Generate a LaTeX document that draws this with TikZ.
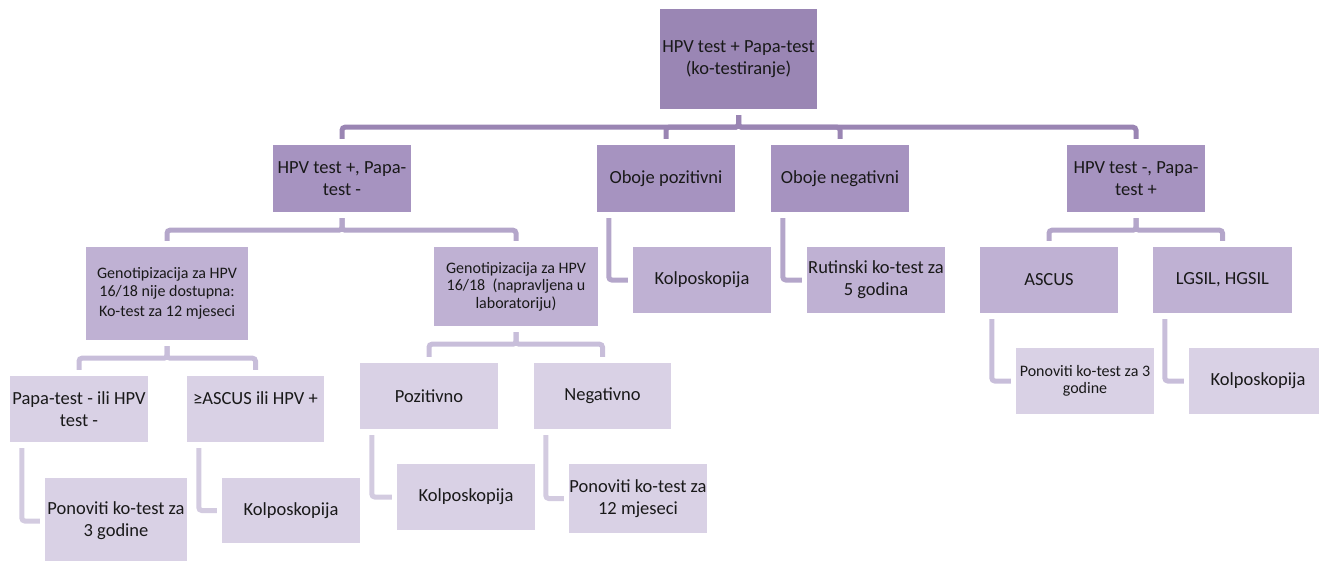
\documentclass[tikz,border=0pt]{standalone}
\usepackage{fontspec}
\setmainfont{Carlito}
\usepackage{tikz}

\definecolor{plumA}{HTML}{9A86B4}
\definecolor{plumB}{HTML}{A693C0}
\definecolor{plumC}{HTML}{BFB1D3}
\definecolor{plumD}{HTML}{D9D1E5}
\definecolor{wireA}{HTML}{9A85B3}
\definecolor{wireB}{HTML}{B4A6CA}
\definecolor{wireC}{HTML}{C8BEDA}
\definecolor{wireD}{HTML}{D3CBE0}

\begin{document}
\begin{tikzpicture}[x=1pt,y=1pt,
  box/.style={rectangle, inner sep=0pt, align=center, text=black!90,
              minimum width=138pt, minimum height=66pt,
              font=\fontsize{18.5}{22}\selectfont},
  smalltext/.style={font=\fontsize{16}{17.5}\selectfont},
  lvlA/.style={box, fill=plumA},
  lvlB/.style={box, fill=plumB},
  lvlC/.style={box, fill=plumC},
  lvlD/.style={box, fill=plumD},
  link/.style={line width=5pt, rounded corners=3pt},
  busA/.style={link, draw=wireA},
  busB/.style={link, draw=wireB},
  busC/.style={link, draw=wireC},
  elbB/.style={link, draw=wireB},
  elbC/.style={link, draw=wireC},
  elbD/.style={link, draw=wireD}]

 \useasboundingbox (0,0) rectangle (1319,-560);

 \node[lvlA, minimum width=157pt, minimum height=100pt] (CoTest) at (738.5,-59) {HPV test + Papa-test\\(ko-testiranje)};

 \node[lvlB, minimum height=67pt] (HpvPos)  at (342,-178.5)  {HPV test +, Papa-\\test -};
 \node[lvlB, minimum height=67pt] (BothPos) at (666,-178.5)  {Oboje pozitivni};
 \node[lvlB, minimum height=67pt] (BothNeg) at (840,-178.5)  {Oboje negativni};
 \node[lvlB, minimum height=67pt] (PapaPos) at (1136,-178.5) {HPV test -, Papa-\\test +};

 \node[lvlC, smalltext, minimum width=162pt, minimum height=93pt] (GenoNA) at (167,-293.5)
      {Genotipizacija za HPV\\16/18 nije dostupna:\\[3pt]Ko-test za 12 mjeseci};
 \node[lvlC, smalltext, minimum width=164pt, minimum height=79pt] (GenoLab) at (516,-286.5)
      {Genotipizacija za HPV\\16/18\ \ (napravljena u\\laboratoriju)};
 \node[lvlC] (KolpoA)  at (702,-280)  {Kolposkopija};
 \node[lvlC] (Routine) at (876,-280)  {Rutinski ko-test za\\5 godina};
 \node[lvlC] (Ascus)   at (1049,-280) {ASCUS};
 \node[lvlC, minimum width=139pt] (Lgsil) at (1222.5,-280) {LGSIL, HGSIL};

 \node[lvlD] (PapaNeg) at (79,-409) {Papa-test - ili HPV\\test -};
 \node[lvlD, minimum width=137pt] (AscusPos) at (255.5,-409) {≥ASCUS ili HPV +\\\mbox{}};
 \node[lvlD] (Pozitivno) at (429,-396) {Pozitivno};
 \node[lvlD, minimum width=137pt] (Negativno) at (602.5,-396) {Negativno};
 \node[lvlD, smalltext] (RepeatThree) at (1085,-381) {Ponoviti ko-test za 3\\godine};
 \node[lvlD] (KolpoD) at (1258,-381) {Kolposkopija};

 \node[lvlD, minimum width=142pt, minimum height=86pt] (RepeatA) at (116,-521) {Ponoviti ko-test za\\3 godine};
 \node[lvlD, minimum height=65pt] (KolpoB) at (291,-510.5) {Kolposkopija};
 \node[lvlD] (KolpoC) at (466,-497) {Kolposkopija};
 \node[lvlD, minimum height=69pt] (RepeatTwelve) at (638,-498.5) {Ponoviti ko-test za\\12 mjeseci};

 \foreach \kid in {HpvPos,BothPos,BothNeg,PapaPos}
  \draw[busA] ([yshift=-6pt]CoTest.south) -- ++(0,-12) -| ([yshift=6pt]\kid.north);
 \foreach \up/\kid in {HpvPos/GenoNA,HpvPos/GenoLab,PapaPos/Ascus,PapaPos/Lgsil}
  \draw[busB] ([yshift=-6pt]\up.south) -- ++(0,-12) -| ([yshift=6pt]\kid.north);
 \foreach \up/\kid in {GenoNA/PapaNeg,GenoNA/AscusPos,GenoLab/Pozitivno,GenoLab/Negativno}
  \draw[busC] ([yshift=-6pt]\up.south) -- ++(0,-12) -| ([yshift=6pt]\kid.north);

 \foreach \up/\kid in {BothPos/KolpoA,BothNeg/Routine}
  \draw[elbB] ([xshift=12pt,yshift=-6pt]\up.south west) |- ([xshift=-5pt]\kid.west);
 \foreach \up/\kid in {Ascus/RepeatThree,Lgsil/KolpoD}
  \draw[elbC] ([xshift=12pt,yshift=-6pt]\up.south west) |- ([xshift=-5pt]\kid.west);
 \foreach \up/\kid in {PapaNeg/RepeatA,AscusPos/KolpoB,Pozitivno/KolpoC,Negativno/RepeatTwelve}
  \draw[elbD] ([xshift=12pt,yshift=-6pt]\up.south west) |- ([xshift=-5pt]\kid.west);
\end{tikzpicture}
\end{document}
